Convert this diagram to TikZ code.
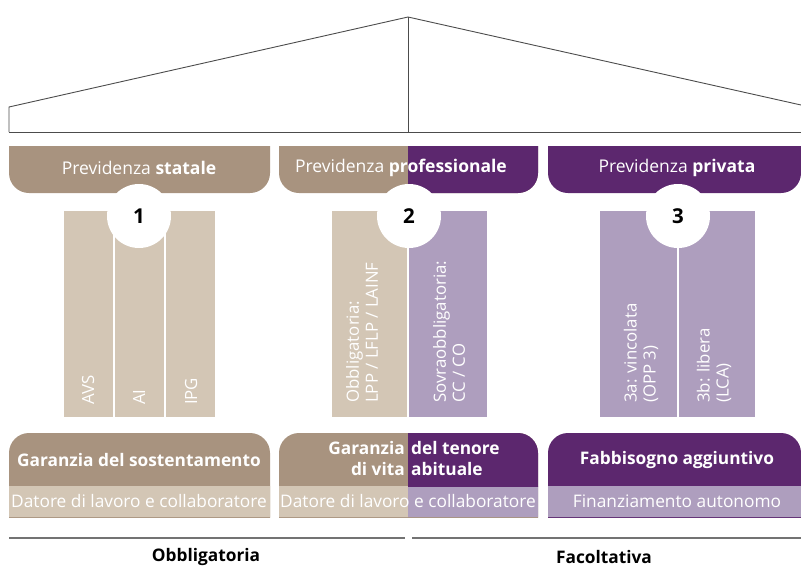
\documentclass[tikz,border=0pt]{standalone}
\usepackage{fontspec}
\setmainfont{Open Sans}
\usetikzlibrary{positioning}
\definecolor{stbrown}{HTML}{A8937F}
\definecolor{stbeige}{HTML}{D3C6B5}
\definecolor{prpurple}{HTML}{5C276E}
\definecolor{prlilac}{HTML}{AE9EBE}
\tikzset{head/.style={text=white,font=\fontsize{17.5}{20}\selectfont},
  capt/.style={text=white,font=\bfseries\fontsize{17.3}{21}\selectfont,align=center,inner sep=0pt},
  sub/.style={text=white,font=\fontsize{17.3}{20}\selectfont},
  pil/.style={text=white,font=\fontsize{16.8}{19}\selectfont,rotate=90,anchor=west,align=left,inner sep=0pt},
  num/.style={circle,fill=white,minimum size=64pt,inner sep=0pt,font=\bfseries\fontsize{20.5}{22}\selectfont},
  foot/.style={font=\bfseries\fontsize{17.3}{20}\selectfont},
  roofline/.style={draw=black!70,line width=0.9pt},
  footline/.style={draw=black!55,line width=1.2pt}}

\begin{document}
\begin{tikzpicture}[x=1pt,y=-1pt]
  \useasboundingbox (0,0) rectangle (801,568);
  % tetto
  \path (9,132) coordinate (RL)
        (9,107) coordinate (EL)
        (408,17) coordinate (TOP)
        (801,105) coordinate (ER)
        (408,132) coordinate (RM)
        (801,132) coordinate (RR);
  \draw[roofline] (RL)--(EL)--(TOP)--(ER);
  \draw[roofline] (TOP)--(RM);
  \draw[roofline] (RL)--(RR);
  % bande superiori
  \begin{scope}
    \clip (0,146) rectangle (801,200);
    \fill[stbrown,rounded corners=20pt] (9,100) rectangle (270,193) (279,100) rectangle (538,193);
    \fill[prpurple,rounded corners=20pt] (548,100) rectangle (801,193);
    \clip (408,146) rectangle (540,200);
    \fill[prpurple,rounded corners=20pt] (279,100) rectangle (538,193);
  \end{scope}
  \node[head] (h1) at (139,168) {Previdenza \textbf{statale}};
  \node[head] (h2) at (401,168) {Previdenza \textbf{professionale}};
  \node[head] (h3) at (677,168) {Previdenza \textbf{privata}};
  % pilastri
  \fill[stbeige] (64,211) rectangle (215,417);
  \draw[white,line width=2pt] (114,211)--(114,417) (165,211)--(165,417);
  \fill[stbeige] (332,211) rectangle (408,417);
  \fill[prlilac] (408,211) rectangle (487,417);
  \fill[prlilac] (600,211) rectangle (755,417);
  \draw[white,line width=1.2pt] (408,211)--(408,417) (678,211)--(678,417);
  \node[pil] (avs) at (88,405) {AVS};
  \node[pil] (ai) at (139,405) {AI};
  \node[pil] (ipg) at (191,405) {IPG};
  \node[pil] (obl) at (362,403) {Obbligatoria:\\LPP / LFLP / LAINF};
  \node[pil] (sovr) at (449,403) {Sovraobbligatoria:\\CC / CO};
  \node[pil] (p3a) at (641,403) {3a: vincolata\\(OPP 3)};
  \node[pil] (p3b) at (714,403) {3b: libera\\(LCA)};
  \node[num] (n1) at (139,216) {1};
  \node[num] (n2) at (409,216) {2};
  \node[num] (n3) at (678,216) {3};
  % riquadri in basso
  \begin{scope}
    \clip (0,433) rectangle (801,517);
    \fill[stbrown,rounded corners=20pt] (9,433) rectangle (270,560) (279,433) rectangle (538,560);
    \fill[prpurple,rounded corners=20pt] (548,433) rectangle (801,560);
    \fill[stbeige] (9,486) rectangle (270,517) (279,486) rectangle (408,517);
    \fill[prlilac] (408,486) rectangle (538,517) (548,486) rectangle (801,517);
    \clip (408,433) rectangle (540,486);
    \fill[prpurple,rounded corners=20pt] (279,433) rectangle (538,560);
  \end{scope}
  \node[capt] (g1) at (139,460) {Garanzia del sostentamento};
  \node[capt,anchor=east,align=right] (g2a) at (405,459) {Garanzia\\di vita};
  \node[capt,anchor=west,align=left] (g2b) at (411,459) {del tenore\\abituale};
  \node[capt] (g3) at (677,460) {Fabbisogno aggiuntivo};
  \node[sub] (d1) at (139,501) {Datore di lavoro e collaboratore};
  \node[sub] (d2) at (408,501) {Datore di lavoro e collaboratore};
  \node[sub] (d3) at (677,501) {Finanziamento autonomo};
  % obbligatoria / facoltativa
  \draw[footline] (9,538)--(405,538);
  \draw[footline] (412,538)--(801,538);
  \node[foot] (obb) at (206,557) {Obbligatoria};
  \node[foot] (fac) at (604,557) {Facoltativa};
\end{tikzpicture}
\end{document}
